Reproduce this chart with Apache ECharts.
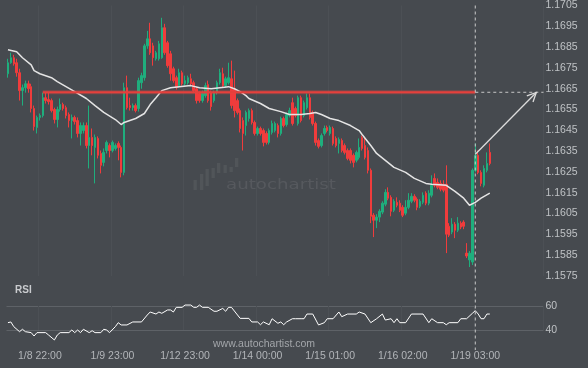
<!DOCTYPE html>
<html><head><meta charset="utf-8">
<script src="https://cdn.jsdelivr.net/npm/echarts@6/dist/echarts.min.js"></script>
<style>html,body{margin:0;padding:0;background:#464a4f}#c{width:588px;height:368px}</style>
</head><body><div id="c"></div>
<script>
// ---- data ----
const tickLabels = ['1/8 22:00','1/9 23:00','1/12 23:00','1/14 00:00','1/15 01:00','1/16 02:00','1/19 03:00'];
const firstTickIndex = 11, tickStep = 25, slotCount = 185;

const opens = [1.16722,1.16775,1.16799,1.16775,1.16727,1.16641,1.16655,1.16674,1.16660,1.16555,
1.16464,1.16512,1.16521,1.16607,1.16598,1.16593,1.16550,1.16502,1.16550,1.16574,
1.16559,1.16526,1.16497,1.16512,1.16497,1.16435,1.16449,1.16473,1.16377,1.16416,
1.16368,1.16411,1.16339,1.16296,1.16353,1.16377,1.16353,1.16363,1.16387,1.16368,
1.16248,1.16655,1.16569,1.16559,1.16569,1.16555,1.16679,1.16703,1.16856,1.16890,
1.16856,1.16794,1.16794,1.16799,1.16943,1.16871,1.16818,1.16746,1.16703,1.16665,
1.16727,1.16674,1.16679,1.16698,1.16679,1.16650,1.16627,1.16593,1.16617,1.16670,
1.16631,1.16593,1.16631,1.16679,1.16722,1.16665,1.16679,1.16698,1.16650,1.16593,
1.16545,1.16497,1.16473,1.16507,1.16545,1.16488,1.16435,1.16459,1.16449,1.16435,
1.16392,1.16440,1.16449,1.16473,1.16435,1.16507,1.16478,1.16521,1.16583,1.16555,
1.16483,1.16607,1.16521,1.16559,1.16607,1.16536,1.16483,1.16401,1.16377,1.16435,
1.16464,1.16435,1.16459,1.16411,1.16387,1.16401,1.16377,1.16353,1.16353,1.16330,
1.16306,1.16320,1.16416,1.16377,1.16353,1.16258,1.16042,1.16018,1.16033,1.16057,
1.16095,1.16152,1.16128,1.16066,1.16104,1.16100,1.16080,1.16052,1.16080,1.16109,
1.16133,1.16119,1.16085,1.16104,1.16148,1.16100,1.16138,1.16219,1.16200,1.16195,
1.16191,1.16191,1.15989,1.15961,1.15999,1.15970,1.16004,1.16009,1.15860,1.15827,
1.15817,1.16258,1.16330,1.16248,1.16186,1.16258,1.16344];
const closes = [1.16775,1.16799,1.16770,1.16727,1.16641,1.16655,1.16674,1.16650,1.16555,1.16468,
1.16512,1.16521,1.16607,1.16593,1.16588,1.16545,1.16502,1.16550,1.16574,1.16555,
1.16521,1.16497,1.16512,1.16492,1.16435,1.16473,1.16473,1.16377,1.16416,1.16377,
1.16416,1.16330,1.16282,1.16344,1.16392,1.16353,1.16392,1.16377,1.16368,1.16248,
1.16655,1.16559,1.16559,1.16569,1.16545,1.16689,1.16713,1.16856,1.16890,1.16823,
1.16799,1.16823,1.16866,1.16943,1.16823,1.16761,1.16722,1.16689,1.16655,1.16727,
1.16674,1.16689,1.16703,1.16674,1.16641,1.16593,1.16593,1.16627,1.16665,1.16593,
1.16564,1.16631,1.16679,1.16727,1.16665,1.16698,1.16703,1.16569,1.16545,1.16536,
1.16459,1.16435,1.16536,1.16545,1.16488,1.16435,1.16459,1.16435,1.16392,1.16392,
1.16449,1.16483,1.16483,1.16435,1.16507,1.16473,1.16526,1.16545,1.16483,1.16521,
1.16607,1.16497,1.16583,1.16607,1.16512,1.16483,1.16392,1.16373,1.16425,1.16459,
1.16449,1.16464,1.16387,1.16377,1.16406,1.16353,1.16344,1.16315,1.16306,1.16296,
1.16344,1.16368,1.16363,1.16320,1.16258,1.16037,1.16018,1.16033,1.16061,1.16100,
1.16152,1.16124,1.16061,1.16109,1.16090,1.16066,1.16042,1.16080,1.16114,1.16133,
1.16114,1.16080,1.16109,1.16138,1.16100,1.16148,1.16186,1.16186,1.16176,1.16167,
1.16162,1.15951,1.15946,1.15999,1.15970,1.16004,1.15985,1.15989,1.15846,1.15860,
1.16258,1.16330,1.16248,1.16195,1.16267,1.16291,1.16291];
const lows = [1.16703,1.16770,1.16761,1.16708,1.16593,1.16569,1.16631,1.16631,1.16536,1.16449,
1.16435,1.16497,1.16512,1.16579,1.16574,1.16536,1.16483,1.16464,1.16540,1.16545,
1.16507,1.16464,1.16411,1.16478,1.16416,1.16377,1.16435,1.16363,1.16267,1.16330,
1.16195,1.16315,1.16243,1.16277,1.16339,1.16320,1.16344,1.16353,1.16306,1.16224,
1.16234,1.16550,1.16545,1.16545,1.16536,1.16540,1.16650,1.16689,1.16842,1.16813,
1.16761,1.16785,1.16785,1.16794,1.16813,1.16751,1.16689,1.16679,1.16646,1.16655,
1.16665,1.16665,1.16670,1.16665,1.16631,1.16579,1.16583,1.16583,1.16607,1.16583,
1.16545,1.16583,1.16622,1.16670,1.16655,1.16655,1.16670,1.16555,1.16512,1.16526,
1.16440,1.16353,1.16425,1.16492,1.16478,1.16425,1.16425,1.16425,1.16373,1.16382,
1.16382,1.16430,1.16440,1.16416,1.16425,1.16464,1.16468,1.16512,1.16473,1.16512,
1.16473,1.16488,1.16512,1.16550,1.16502,1.16473,1.16377,1.16363,1.16368,1.16425,
1.16440,1.16425,1.16377,1.16368,1.16339,1.16344,1.16334,1.16306,1.16291,1.16272,
1.16296,1.16310,1.16353,1.16310,1.16243,1.16004,1.15937,1.15980,1.16009,1.16047,
1.16085,1.16114,1.16037,1.16057,1.16080,1.16057,1.16033,1.16042,1.16071,1.16100,
1.16104,1.16066,1.16076,1.16095,1.16090,1.16090,1.16128,1.16176,1.16167,1.16157,
1.16152,1.15860,1.15937,1.15951,1.15932,1.15961,1.15975,1.15975,1.15836,1.15793,
1.15803,1.16248,1.16239,1.16181,1.16176,1.16248,1.16282];
const highs = [1.16794,1.16823,1.16813,1.16794,1.16746,1.16670,1.16689,1.16689,1.16674,1.16569,
1.16521,1.16531,1.16631,1.16631,1.16631,1.16603,1.16559,1.16564,1.16603,1.16583,
1.16569,1.16536,1.16526,1.16521,1.16512,1.16488,1.16488,1.16488,1.16569,1.16459,
1.16430,1.16421,1.16353,1.16363,1.16401,1.16387,1.16401,1.16387,1.16397,1.16377,
1.16679,1.16713,1.16607,1.16579,1.16579,1.16703,1.16727,1.16866,1.16928,1.16967,
1.16871,1.16832,1.16880,1.16991,1.16962,1.16880,1.16832,1.16756,1.16713,1.16746,
1.16737,1.16713,1.16713,1.16722,1.16689,1.16660,1.16636,1.16641,1.16679,1.16689,
1.16641,1.16641,1.16689,1.16746,1.16751,1.16708,1.16775,1.16785,1.16737,1.16603,
1.16555,1.16512,1.16545,1.16555,1.16555,1.16497,1.16468,1.16468,1.16459,1.16445,
1.16459,1.16497,1.16492,1.16483,1.16516,1.16516,1.16536,1.16559,1.16607,1.16564,
1.16617,1.16617,1.16593,1.16627,1.16627,1.16545,1.16492,1.16411,1.16435,1.16473,
1.16473,1.16473,1.16468,1.16421,1.16416,1.16411,1.16387,1.16363,1.16363,1.16339,
1.16353,1.16411,1.16425,1.16416,1.16368,1.16267,1.16052,1.16047,1.16071,1.16109,
1.16167,1.16176,1.16138,1.16119,1.16128,1.16114,1.16090,1.16114,1.16148,1.16148,
1.16143,1.16128,1.16119,1.16152,1.16157,1.16162,1.16234,1.16243,1.16219,1.16210,
1.16210,1.16282,1.16004,1.16028,1.16009,1.16033,1.16013,1.16018,1.15908,1.15870,
1.16267,1.16387,1.16353,1.16258,1.16282,1.16344,1.16387];

// moving average line: [slot, price]
const maLine = [[0,1.16837],[3,1.16828],[5,1.16799],[8,1.16765],[9,1.16737],[11,1.16722],[15,1.16703],[17,1.16684],
[20,1.16660],[23,1.16636],[27,1.16603],[30,1.16569],[33,1.16536],[37,1.16502],[39,1.16478],[40,1.16488],
[44,1.16507],[47,1.16531],[49,1.16574],[51,1.16607],[53,1.16641],[56,1.16655],[59,1.16660],[63,1.16665],
[66,1.16655],[70,1.16650],[73,1.16655],[76,1.16660],[78,1.16650],[80,1.16636],[82,1.16617],[83,1.16603],
[87,1.16579],[90,1.16555],[94,1.16540],[97,1.16526],[101,1.16526],[104,1.16531],[106,1.16536],[108,1.16526],
[111,1.16507],[114,1.16497],[118,1.16473],[121,1.16449],[122,1.16430],[125,1.16377],[127,1.16339],[130,1.16306],
[133,1.16272],[137,1.16248],[140,1.16219],[144,1.16195],[146,1.16191],[151,1.16186],[154,1.16157],[157,1.16124],
[159,1.16090],[161,1.16104],[163,1.16124],[166,1.16148]];

// RSI line: [slot, value]
const rsiLine = [[0,46.1],[1,46.7],[2,42.8],[4,38.6],[5,40.6],[6,38.6],[8,37.8],[9,35],[10,37.8],[13,37.8],
[14,35.8],[16,31.7],[17,35.8],[18,37.8],[21,37.8],[22,40],[23,37.8],[24,40],[25,37.8],[26,40.6],[28,37.8],
[29,39.4],[30,37.8],[32,37.8],[33,40.6],[34,40],[35,37.8],[37,42.8],[38,46.1],[39,44.2],[41,44.2],[43,46.7],
[46,46.7],[48,52.5],[49,55],[51,53.3],[52,55],[53,53.9],[55,56.7],[56,56.7],[57,55],[58,58.9],[60,58.9],
[61,60.8],[63,60.8],[64,58.9],[65,58.9],[66,60.8],[67,58.9],[69,58.9],[71,55.6],[72,55.6],[74,58],[75,55.6],
[76,58.9],[77,58.9],[80,49.7],[83,49.7],[84,46.7],[86,46.7],[87,44.4],[88,46.7],[90,44.4],[91,49.4],[93,45.6],
[94,46.7],[95,44.4],[96,46.7],[98,49.4],[99,49.4],[101,49.4],[102,49.4],[103,53.3],[105,53.3],[107,44.2],
[109,46.1],[110,49.4],[112,49.4],[114,55],[115,51.1],[117,53.3],[120,53.3],[121,55],[123,53.3],[125,46.1],
[127,49.4],[129,53.3],[130,48.3],[132,49.4],[133,46.1],[134,49.4],[135,46.1],[137,46.1],[139,53.3],[143,53.3],
[145,46.1],[146,49.4],[148,46.1],[150,46.1],[151,44.4],[152,46.1],[155,46.1],[156,49.4],[158,49.4],[160,53.9],
[161,56.1],[162,53.3],[163,49.4],[164,49.4],[165,53.3],[166,53.3]];

const resistanceLevel = 1.16633;
const levelStartSlot = 12;
const signalSlot = 161;
const arrowFrom = [161, 1.16335];
const arrowTo = [182, 1.16632];
const priceMin = 1.1575, priceMax = 1.1705, priceStep = 0.001;

// ---- build ----
const isTick = i => i >= firstTickIndex && (i - firstTickIndex) % tickStep === 0 && (i - firstTickIndex) / tickStep < tickLabels.length;
const categories = Array.from({length: slotCount}, (_, i) => isTick(i) ? tickLabels[(i - firstTickIndex) / tickStep] : 's' + i);
const candles = opens.map((o, i) => [o, closes[i], lows[i], highs[i]]);

const UP = '#1fae7d', DOWN = '#f03c3c';
const FONT = 'Liberation Sans, Arial, sans-serif';
const chart = echarts.init(document.getElementById('c'), null, {renderer: 'canvas'});

const gridL = 6.5, gridR = 44.5;
chart.setOption({
  backgroundColor: '#464a4f',
  animation: false,
  grid: [
    {left: gridL, right: gridR, top: 4.5, height: 271.5},
    {left: gridL, right: gridR, top: 306, height: 24}
  ],
  xAxis: [
    {type: 'category', gridIndex: 0, data: categories, boundaryGap: true,
     axisLine: {show: false}, axisTick: {show: false}, axisLabel: {show: false},
     splitLine: {show: true, interval: (i) => isTick(i), lineStyle: {color: '#4c5055', width: 1}}},
    {type: 'category', gridIndex: 1, data: categories, boundaryGap: true,
     axisLine: {show: false}, axisTick: {show: false},
     axisLabel: {show: true, interval: (i) => isTick(i), margin: 21, color: '#b2b5b9', fontSize: 10.5, fontFamily: FONT},
     splitLine: {show: true, interval: (i) => isTick(i), lineStyle: {color: '#4c5055', width: 1}}}
  ],
  yAxis: [
    {type: 'value', gridIndex: 0, position: 'right', min: priceMin, max: priceMax, interval: priceStep,
     axisLine: {show: false}, axisTick: {show: false}, splitLine: {show: false},
     axisLabel: {margin: 2, color: '#bfc2c5', fontSize: 10.5, fontFamily: FONT, formatter: v => v.toFixed(4)}},
    {type: 'value', gridIndex: 1, position: 'right', min: 40, max: 60, interval: 20,
     axisLine: {show: false}, axisTick: {show: false},
     splitLine: {show: true, lineStyle: {color: '#5e6267', width: 1}},
     axisLabel: {margin: 2, color: '#bfc2c5', fontSize: 10.5, fontFamily: FONT}}
  ],
  graphic: [
    {type: 'text', left: 15, top: 285, z: 1, style: {text: 'RSI', fill: '#c9cbce', font: 'bold 10px ' + FONT}},
    {type: 'text', x: 213, y: 344, z: 1, style: {text: 'www.autochartist.com', fill: '#a3a6aa', font: '10.5px ' + FONT, verticalAlign: 'middle'}},
    {type: 'text', x: 226, y: 185, scaleX: 1.3, z: 0, style: {text: 'autochartist', fill: '#56595e', font: '14px DejaVu Sans', verticalAlign: 'middle'}},
    {type: 'group', z: 0, children: [
      {type: 'rect', shape: {x: 193.5, y: 180, width: 3.3, height: 10}, style: {fill: '#515559'}},
      {type: 'rect', shape: {x: 200, y: 174, width: 3.3, height: 16}, style: {fill: '#515559'}},
      {type: 'rect', shape: {x: 205.5, y: 169, width: 3.3, height: 17}, style: {fill: '#515559'}},
      {type: 'rect', shape: {x: 211.5, y: 168, width: 3.3, height: 10}, style: {fill: '#515559'}},
      {type: 'rect', shape: {x: 217, y: 163, width: 3.3, height: 10}, style: {fill: '#515559'}},
      {type: 'rect', shape: {x: 223.5, y: 165, width: 3.3, height: 8}, style: {fill: '#515559'}},
      {type: 'rect', shape: {x: 229.5, y: 167, width: 3.3, height: 5}, style: {fill: '#515559'}},
      {type: 'rect', shape: {x: 235, y: 158, width: 3.3, height: 9}, style: {fill: '#515559'}}
    ]}
  ],
  series: [
    {type: 'candlestick', xAxisIndex: 0, yAxisIndex: 0, data: candles, barWidth: 2,
     itemStyle: {color: UP, color0: DOWN, borderColor: UP, borderColor0: DOWN, borderWidth: 1}},
    {type: 'line', xAxisIndex: 0, yAxisIndex: 0, data: maLine, showSymbol: false, symbol: 'none', z: 3,
     lineStyle: {color: '#e4e4e4', width: 1.5}},
    {type: 'line', xAxisIndex: 1, yAxisIndex: 1, data: rsiLine, showSymbol: false, symbol: 'none', clip: false,
     lineStyle: {color: '#ffffff', width: 1}},
    // resistance level + continuation
    {type: 'custom', xAxisIndex: 0, yAxisIndex: 0, clip: false, silent: true, z: 4,
     data: [[levelStartSlot, resistanceLevel, signalSlot, slotCount - 0.5]],
     encode: {x: [0, 2], y: [1]},
     renderItem: (params, api) => {
       const a = api.coord([api.value(0), api.value(1)]);
       const b = api.coord([api.value(2), api.value(1)]);
       const right = params.coordSys.x + params.coordSys.width;
       return {type: 'group', children: [
         {type: 'line', shape: {x1: a[0], y1: a[1], x2: b[0], y2: b[1]}, style: {stroke: 'rgba(235,70,65,0.35)', lineWidth: 4}},
         {type: 'line', shape: {x1: a[0], y1: a[1], x2: b[0], y2: b[1]}, style: {stroke: '#e5403c', lineWidth: 2}},
         {type: 'line', shape: {x1: b[0], y1: b[1], x2: right, y2: b[1]}, style: {stroke: '#c8c8c8', lineWidth: 1, lineDash: [3, 3]}}
       ]};
     }},
    // signal vertical line
    {type: 'custom', xAxisIndex: 0, yAxisIndex: 0, clip: false, silent: true, z: 4,
     data: [[signalSlot, priceMax]],
     renderItem: (params, api) => {
       const p = api.coord([api.value(0), api.value(1)]);
       return {type: 'line', shape: {x1: p[0], y1: p[1], x2: p[0], y2: 350}, style: {stroke: '#c8c8c8', lineWidth: 1, lineDash: [3, 3]}};
     }},
    // forecast arrow
    {type: 'custom', xAxisIndex: 0, yAxisIndex: 0, clip: false, silent: true, z: 5,
     data: [[arrowFrom[0], arrowFrom[1], arrowTo[0], arrowTo[1]]],
     encode: {x: [0, 2], y: [1, 3]},
     renderItem: (params, api) => {
       const p0 = api.coord([api.value(0), api.value(1)]);
       const p1 = api.coord([api.value(2), api.value(3)]);
       const ang = Math.atan2(p1[1] - p0[1], p1[0] - p0[0]);
       const L = 10, s = 0.45;
       const h1 = [p1[0] - L * Math.cos(ang - s), p1[1] - L * Math.sin(ang - s)];
       const h2 = [p1[0] - L * Math.cos(ang + s), p1[1] - L * Math.sin(ang + s)];
       return {type: 'group', children: [
         {type: 'line', shape: {x1: p0[0], y1: p0[1], x2: p1[0], y2: p1[1]}, style: {stroke: '#dcdcdc', lineWidth: 1.3}},
         {type: 'polyline', shape: {points: [h1, p1, h2]}, style: {stroke: '#dcdcdc', lineWidth: 1.3, fill: null}}
       ]};
     }}
  ]
});
</script></body></html>
